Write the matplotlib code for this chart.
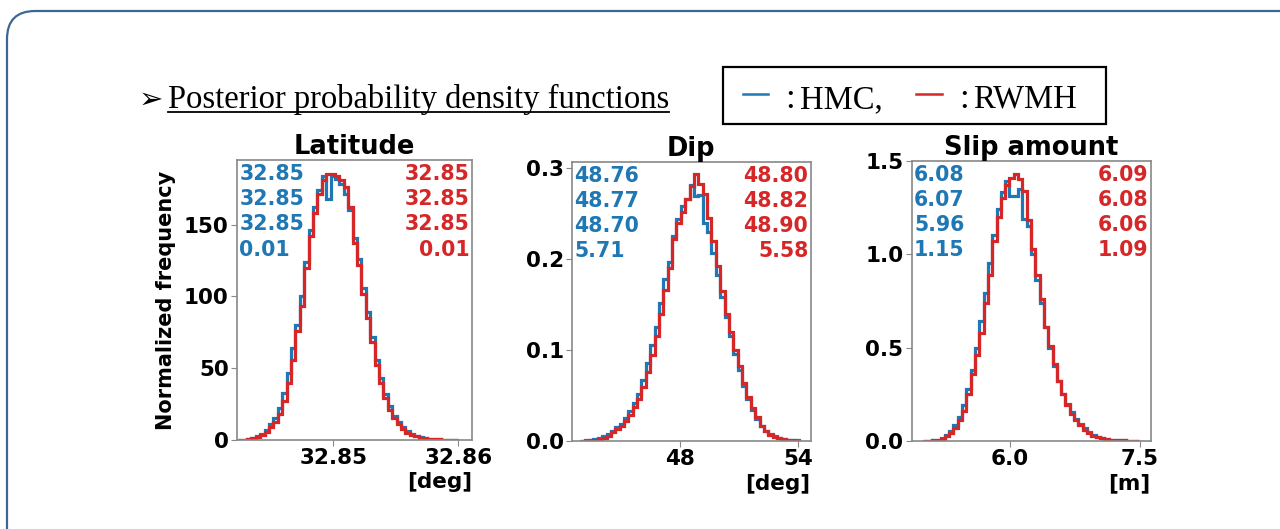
import numpy as np
import matplotlib
matplotlib.use('Agg')
import matplotlib.pyplot as plt
from matplotlib.patches import FancyBboxPatch, Rectangle
from matplotlib.lines import Line2D

# ------- Datos ------- #

titles = ['Latitude', 'Dip', 'Slip amount']
units = ['[deg]', '[deg]', '[m]']

# Latitud: densidad normalizada en 50 bines
lat_range = (32.8424, 32.8600)
lat_hmc = [0.1, 0.3, 0.7, 1.4, 2.5, 4.2, 7.0, 10.8, 15.5, 22,
           33, 47, 64, 80, 100, 124, 146, 162, 174, 184,
           168, 184, 182, 178, 171, 160, 141, 126, 106, 89,
           72, 56, 43, 32, 24, 17, 12.5, 8.8, 6.0, 4.2,
           2.9, 2.0, 1.4, 0.9, 0.6, 0.4, 0.25, 0.15, 0.08, 0.04]
lat_rwmh = [0.1, 0.3, 0.6, 1.1, 2.0, 3.3, 5.6, 8.8, 12.6, 18,
            27, 40, 56, 76, 93, 120, 142, 158, 171, 181,
            185, 185, 184, 181, 176, 162, 137, 122, 102, 85,
            68, 52, 40, 29, 21, 15, 11, 7.5, 5.2, 3.6,
            2.5, 1.7, 1.2, 0.8, 0.5, 0.35, 0.2, 0.12, 0.06, 0.03]
lat_hmc_stats = ['32.85', '32.85', '32.85', '0.01']
lat_rwmh_stats = ['32.85', '32.85', '32.85', '0.01']

# Dip
dip_range = (42.92, 54.03)
dip_hmc = [0.0003, 0.0006, 0.001, 0.0018, 0.003, 0.005, 0.0075, 0.011, 0.015, 0.019,
           0.025, 0.033, 0.042, 0.052, 0.067, 0.086, 0.105, 0.125, 0.152, 0.178,
           0.197, 0.225, 0.244, 0.258, 0.266, 0.281, 0.269, 0.270, 0.240, 0.230,
           0.207, 0.183, 0.158, 0.136, 0.115, 0.096, 0.078, 0.061, 0.046, 0.034,
           0.024, 0.016, 0.011, 0.0075, 0.005, 0.0032, 0.002, 0.0014, 0.0012, 0.0010]
dip_rwmh = [0.0003, 0.0005, 0.0008, 0.0013, 0.0022, 0.0038, 0.006, 0.0095, 0.013, 0.017,
            0.022, 0.029, 0.037, 0.046, 0.059, 0.076, 0.094, 0.115, 0.140, 0.166,
            0.190, 0.222, 0.240, 0.252, 0.266, 0.280, 0.293, 0.283, 0.272, 0.245,
            0.220, 0.192, 0.165, 0.140, 0.120, 0.100, 0.082, 0.064, 0.048, 0.036,
            0.026, 0.017, 0.011, 0.007, 0.0045, 0.0028, 0.0017, 0.001, 0.0006, 0.0003]
dip_hmc_stats = ['48.76', '48.77', '48.70', '5.71']
dip_rwmh_stats = ['48.80', '48.82', '48.90', '5.58']

# Slip amount
slip_range = (5.0, 7.485)
slip_hmc = [0.0, 0.001, 0.003, 0.007, 0.014, 0.030, 0.052, 0.085, 0.13, 0.19,
            0.28, 0.38, 0.50, 0.64, 0.79, 0.95, 1.10, 1.24, 1.33, 1.39,
            1.31, 1.31, 1.35, 1.19, 1.15, 1.00, 0.86, 0.74, 0.61, 0.50,
            0.40, 0.32, 0.25, 0.20, 0.155, 0.12, 0.092, 0.068, 0.048, 0.033,
            0.022, 0.015, 0.011, 0.008, 0.006, 0.004, 0.003, 0.002, 0.001, 0.001]
slip_rwmh = [0.0, 0.001, 0.003, 0.006, 0.012, 0.025, 0.045, 0.072, 0.11, 0.16,
             0.25, 0.36, 0.46, 0.58, 0.74, 0.89, 1.07, 1.20, 1.30, 1.37,
             1.41, 1.43, 1.40, 1.34, 1.18, 1.03, 0.89, 0.76, 0.61, 0.51,
             0.41, 0.32, 0.25, 0.19, 0.145, 0.11, 0.083, 0.059, 0.042, 0.028,
             0.019, 0.014, 0.011, 0.008, 0.006, 0.004, 0.003, 0.002, 0.001, 0.001]
slip_hmc_stats = ['6.08', '6.07', '5.96', '1.15']
slip_rwmh_stats = ['6.09', '6.08', '6.06', '1.09']

xticks = [[32.85, 32.86], [48, 54], [6.0, 7.5]]
xticklabels = [['32.85', '32.86'], ['48', '54'], ['6.0', '7.5']]
yticks = [[0, 50, 100, 150], [0.0, 0.1, 0.2, 0.3], [0.0, 0.5, 1.0, 1.5]]
yticklabels = [['0', '50', '100', '150'], ['0.0', '0.1', '0.2', '0.3'], ['0.0', '0.5', '1.0', '1.5']]

ranges = [lat_range, dip_range, slip_range]
hmc = [lat_hmc, dip_hmc, slip_hmc]
rwmh = [lat_rwmh, dip_rwmh, slip_rwmh]
hmc_stats = [lat_hmc_stats, dip_hmc_stats, slip_hmc_stats]
rwmh_stats = [lat_rwmh_stats, dip_rwmh_stats, slip_rwmh_stats]

# ------- Estilo ------- #
c_hmc = '#1f77b4'
c_rwmh = '#d62728'
serif = ['Liberation Serif', 'DejaVu Serif', 'DejaVu Sans']

fig = plt.figure(figsize=(12.8, 5.29), dpi=100)
W, H = 1280, 529

def px(x0, y0, x1, y1):
    # rectangulo en pixeles (origen arriba a la izquierda) -> fraccion de figura
    return [x0 / W, 1 - y1 / H, (x1 - x0) / W, (y1 - y0) / H]

# Marco exterior redondeado
frame = FancyBboxPatch((7 / W, -0.2), 1.2, 1.2 - 11 / H,
                       boxstyle='round,pad=0,rounding_size=0.022',
                       transform=fig.transFigure, fill=False,
                       edgecolor='#3d6793', linewidth=1.6, mutation_aspect=W / H)
fig.patches.append(frame)

axes_px = [(237, 160, 472, 440), (572, 161.7, 810.7, 441), (911.7, 160.7, 1150.7, 441)]
xlims = [(32.8423, 32.8611), (42.5, 54.63), (4.866, 7.623)]
ylims = [(0, 195), (0, 0.307), (0, 1.5)]

for k in range(3):
    ax = fig.add_axes(px(*axes_px[k]))
    edges = np.linspace(ranges[k][0], ranges[k][1], len(hmc[k]) + 1)
    ax.stairs(hmc[k], edges, color=c_hmc, linewidth=2.3)
    ax.stairs(rwmh[k], edges, color=c_rwmh, linewidth=2.3)
    ax.set_xlim(xlims[k])
    ax.set_ylim(ylims[k])
    ax.set_xticks(xticks[k])
    ax.set_xticklabels(xticklabels[k], fontsize=15.5, fontweight='bold')
    ax.set_yticks(yticks[k])
    ax.set_yticklabels(yticklabels[k], fontsize=15.5, fontweight='bold')
    ax.tick_params(color='#888888', length=4, pad=2)
    for s in ax.spines.values():
        s.set_color('#888888')
        s.set_linewidth(1.2)
    ax.set_title(titles[k], fontsize=18.5, fontweight='bold', pad=3)
    ax.set_xlabel(units[k], fontsize=15.5, fontweight='bold', loc='right', labelpad=3)
    if k == 0:
        ax.set_ylabel('Normalized frequency', fontsize=15, fontweight='bold', labelpad=6)
    ax.text(0.01, 0.985, '\n'.join(hmc_stats[k]), transform=ax.transAxes,
            ha='left', va='top', color=c_hmc, fontsize=14.8, fontweight='bold',
            linespacing=1.32)
    ax.text(0.99, 0.985, '\n'.join(rwmh_stats[k]), transform=ax.transAxes,
            ha='right', va='top', color=c_rwmh, fontsize=14.8, fontweight='bold',
            linespacing=1.32, multialignment='right')

# Encabezado
fig.text(139 / W, 1 - 108 / H, '\u27a2', fontsize=21, family=['DejaVu Sans'],
         va='baseline', ha='left')
head = fig.text(168 / W, 1 - 108 / H, 'Posterior probability density functions',
                fontsize=23.5, family=serif, va='baseline', ha='left')
fig.canvas.draw()
bb = head.get_window_extent()
uy = (H - 112) / H
fig.add_artist(Line2D([bb.x0 / W, bb.x1 / W], [uy, uy],
                      transform=fig.transFigure, color='black', linewidth=1.3))

# Recuadro de leyenda
box = Rectangle((723 / W, 1 - 124 / H), (1106 - 723) / W, (124 - 67) / H,
                transform=fig.transFigure, fill=False, edgecolor='black', linewidth=1.6)
fig.patches.append(box)
ly = 1 - 94 / H
fig.add_artist(Line2D([743 / W, 768 / W], [ly, ly], transform=fig.transFigure,
                      color=c_hmc, linewidth=1.8))
fig.add_artist(Line2D([916 / W, 942 / W], [ly, ly], transform=fig.transFigure,
                      color=c_rwmh, linewidth=1.8))
base = 1 - 108 / H
fig.text(785 / W, base, ':', fontsize=25, family=serif, va='baseline')
fig.text(800 / W, base, 'HMC,', fontsize=23.5, family=serif, va='baseline')
fig.text(959 / W, base, ':', fontsize=25, family=serif, va='baseline')
fig.text(973 / W, base, 'RWMH', fontsize=23.5, family=serif, va='baseline')

plt.savefig('out.png', dpi=100)
